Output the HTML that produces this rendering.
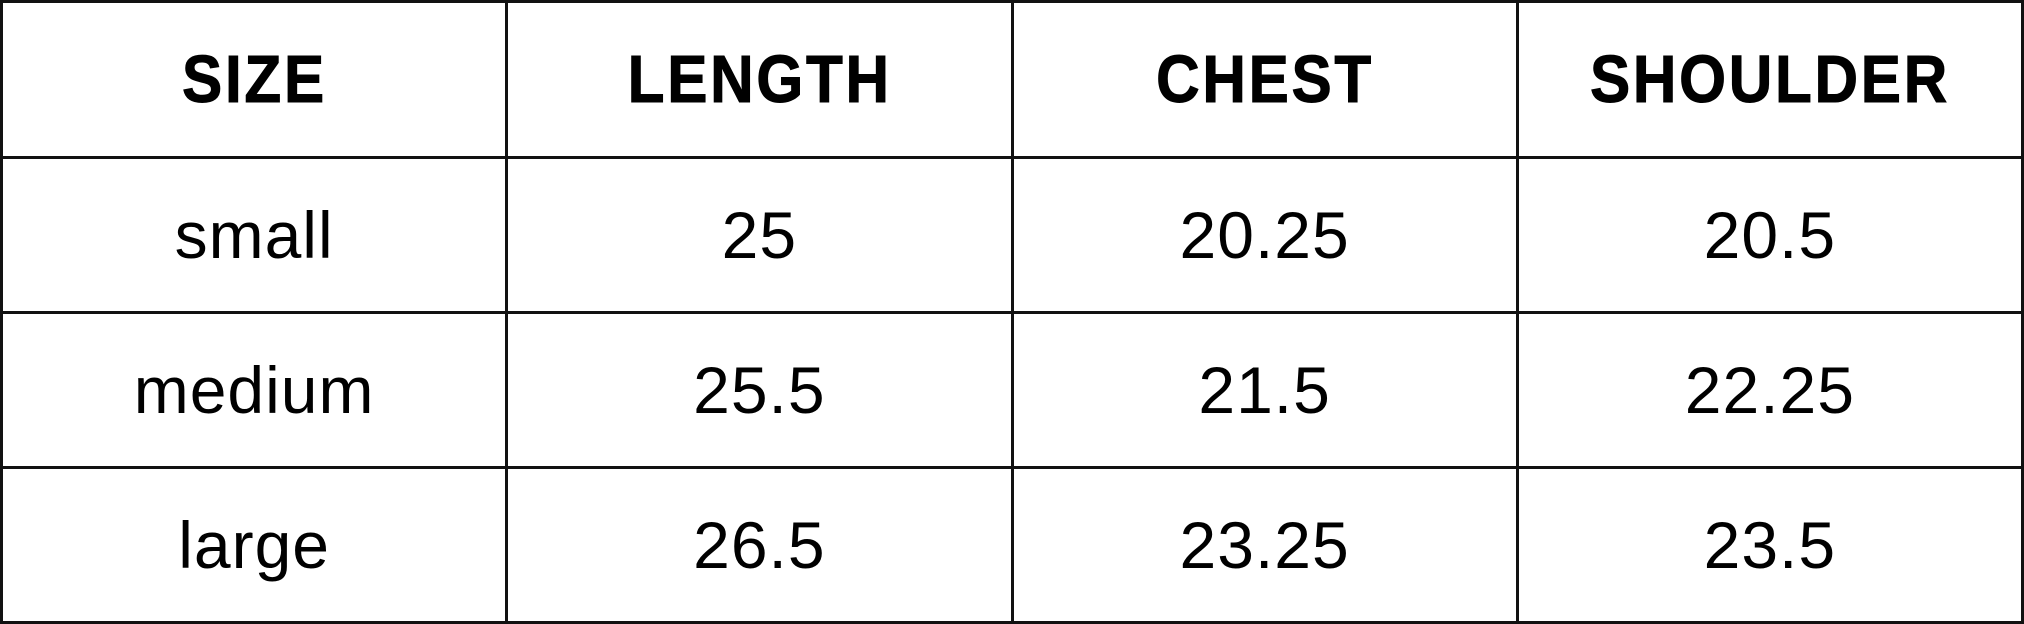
<!DOCTYPE html>
<html><head><meta charset="utf-8"><style>
html,body{margin:0;padding:0;background:#fff;}
body{width:2024px;height:624px;overflow:hidden;}
table{position:absolute;left:0;top:0;width:2024px;height:624px;border-collapse:collapse;table-layout:fixed;font-family:"Liberation Sans",sans-serif;color:#000;}
td,th{border:3px solid #111;text-align:center;vertical-align:middle;padding:0;}
th{font-size:67px;font-weight:bold;letter-spacing:3px;height:153px;}
td{font-size:66px;height:152px;}
th span{display:inline-block;transform:scaleX(0.9);-webkit-text-stroke:1px #000;}
td span{display:inline-block;transform:scaleX(1.0);letter-spacing:1px;}
</style></head><body>
<table>
<tr>
<th><span>SIZE</span></th>
<th><span>LENGTH</span></th>
<th><span>CHEST</span></th>
<th><span>SHOULDER</span></th>
</tr>
<tr>
<td><span>small</span></td>
<td><span>25</span></td>
<td><span>20.25</span></td>
<td><span>20.5</span></td>
</tr>
<tr>
<td><span>medium</span></td>
<td><span>25.5</span></td>
<td><span>21.5</span></td>
<td><span>22.25</span></td>
</tr>
<tr>
<td><span>large</span></td>
<td><span>26.5</span></td>
<td><span>23.25</span></td>
<td><span>23.5</span></td>
</tr>
</table>
</body></html>
